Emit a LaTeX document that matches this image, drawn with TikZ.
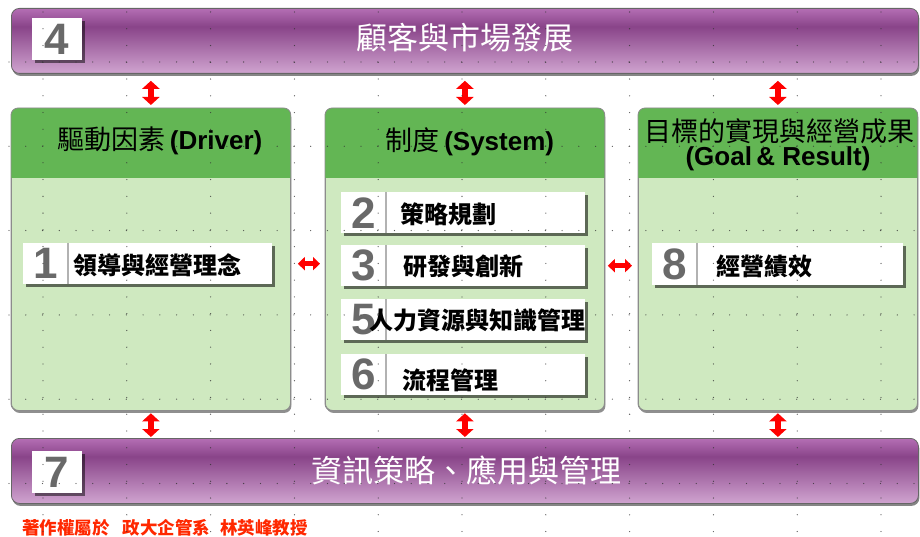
\documentclass[tikz,border=0pt]{standalone}
\usepackage{fontspec}
\setmainfont{Liberation Sans}
\newfontfamily\cjk{Noto Sans CJK TC}
\usetikzlibrary{shadows,arrows.meta,calc}
\definecolor{hgreen}{RGB}{99,182,84}
\definecolor{bgreen}{RGB}{207,233,192}
\definecolor{ptop}{RGB}{180,110,180}
\definecolor{pdark}{RGB}{137,68,137}
\definecolor{pbot}{RGB}{208,164,208}
\definecolor{numgray}{RGB}{105,105,105}
\definecolor{arrred}{RGB}{255,0,0}
\definecolor{copyred}{RGB}{255,40,0}
\pgfdeclareverticalshading{pbar}{100bp}{color(0bp)=(pbot); color(25bp)=(pbot); color(61bp)=(pdark); color(75bp)=(ptop); color(100bp)=(ptop)}
\tikzset{
  barbox/.style={draw=black!60, line width=0.8pt, rounded corners=8pt, shade, shading=pbar,
    anchor=north west, inner sep=0pt, minimum width=907pt, minimum height=65pt,
    drop shadow={shadow xshift=1pt, shadow yshift=-2.5pt, opacity=0.6, fill=black!80}},
  numbox/.style={fill=white, anchor=north west, inner sep=0pt, minimum width=50pt, minimum height=42pt,
    drop shadow={shadow xshift=2.5pt, shadow yshift=-2.5pt, opacity=0.5, fill=black}},
  numtxt/.style={font=\fontsize{44}{44}\selectfont\bfseries, text=numgray, inner sep=0pt},
  bartxt/.style={font=\cjk\fontsize{31}{31}\selectfont, text=white, inner sep=0pt},
  panel/.style={draw=black!45, line width=0.8pt, rounded corners=7pt, fill=bgreen, anchor=north west,
    inner sep=0pt, minimum width=279pt, minimum height=302pt,
    drop shadow={shadow xshift=1pt, shadow yshift=-2.5pt, opacity=0.55, fill=black!80}},
  headtxt/.style={font=\fontsize{26}{28}\selectfont, text=black, inner sep=0pt, align=center},
  itembox/.style={fill=white, anchor=north west, inner sep=0pt, minimum height=41pt,
    drop shadow={shadow xshift=3pt, shadow yshift=-3pt, opacity=0.55, fill=black}},
  itemtxt/.style={font=\cjk\bfseries\fontsize{24}{24}\selectfont, text=black, inner sep=0pt},
  divider/.style={draw=black!30, line width=1.6pt},
  vdbl/.style={draw=arrred, line width=6.5pt, {Triangle[width=17pt,length=8pt]}-{Triangle[width=17pt,length=8pt]}},
  hdbl/.style={draw=arrred, line width=4.5pt, {Triangle[width=13pt,length=7pt]}-{Triangle[width=13pt,length=7pt]}},
  gdot/.style={fill=black!80, opacity=0.8}
}
\begin{document}
\begin{tikzpicture}[x=1pt,y=-1pt]
\useasboundingbox (0,0) rectangle (920,537);
% top and bottom bars
\node[barbox] (top) at (11,8) {};
\node[numbox] (n4) at (32,18) {};
\node[numtxt] (n4t) at (n4.center) {4};
\node[bartxt] (toptxt) at (465,38) {顧客與市場發展};
\node[barbox] (bot) at (11,438) {};
\node[numbox] (n7) at (32,451) {};
\node[numtxt] (n7t) at (n7.center) {7};
\node[bartxt] (bottxt) at (466,470) {資訊策略、應用與管理};
% panels
\foreach \nm/\px in {p1/11,p2/325,p3/638}{
  \node[panel] (\nm) at (\px,108) {};
  \begin{scope}
    \clip[rounded corners=7pt] (\nm.north west) rectangle (\nm.south east);
    \fill[hgreen] (\nm.north west) rectangle (\nm.east |- 0,178);
  \end{scope}
  \draw[draw=black!45, line width=0.8pt, rounded corners=7pt] (\nm.north west) rectangle (\nm.south east);
}
\node[headtxt] (h1) at (160,141) {{\cjk\fontsize{27}{28}\selectfont 驅動因素}\,\textbf{(Driver)}};
\node[headtxt] (h2) at (470,142) {{\cjk\fontsize{27}{28}\selectfont 制度}\,\textbf{(System)}};
\node[headtxt] (h3a) at (779,131) {{\cjk\fontsize{27}{28}\selectfont 目標的實現與經營成果}};
\node[headtxt] (h3b) at (778,159) {\textbf{(Goal\,\& Result)}};
% items
\node[itembox, minimum width=249pt] (i1) at (23,243) {};
\node[itembox, minimum width=244pt] (i2) at (341,192) {};
\node[itembox, minimum width=244pt] (i3) at (341,245) {};
\node[itembox, minimum width=244pt] (i5) at (341,299) {};
\node[itembox, minimum width=244pt] (i6) at (341,354) {};
\node[itembox, minimum width=251pt, minimum height=42pt] (i8) at (652,243) {};
\foreach \it/\n in {i1/1,i2/2,i3/3,i5/5,i6/6,i8/8}{
  \draw[divider] ([xshift=45pt]\it.north west) -- ([xshift=45pt]\it.south west);
  \node[numtxt] at ([xshift=22.5pt]\it.west) {\n};
}
\node[itemtxt] (t1) at (157,265) {領導與經營理念};
\node[itemtxt] (t2) at (448,214) {策略規劃};
\node[itemtxt] (t3) at (463,266) {研發與創新};
\node[itemtxt] (t5) at (477,320) {人力資源與知識管理};
\node[itemtxt] (t6) at (450,380) {流程管理};
\node[itemtxt] (t8) at (764,266) {經營績效};
% arrows
\foreach \p in {p1,p2,p3}{
  \draw[vdbl] ([yshift=-7pt]top.south -| \p.north) -- ([yshift=3pt]\p.north);
  \draw[vdbl] ([yshift=-2.5pt]\p.south) -- ([yshift=1pt]bot.north -| \p.south);
}
\draw[hdbl] ([xshift=7pt]p1.east |- i1) -- ([xshift=-5pt]p2.west |- i1);
\draw[hdbl] ([xshift=3pt]p2.east |- i3) -- ([xshift=-6pt]p3.west |- i3);
% copyright
\node[anchor=west, text=copyred, inner sep=0pt, font=\cjk\bfseries\fontsize{17.5}{18}\selectfont] (cr) at (22,528) {著作權屬於\hspace{13pt}政大企管系\hspace{10pt}林英峰教授};
% grid dots
\foreach \k in {0,...,10}{
  \foreach \j in {0,...,31}{
    \fill[gdot] ({43+83.8*\k},{12+16.76*\j}) circle (0.65pt);
  }
}
\foreach \r in {0,...,5}{
  \foreach \j in {0,...,54}{
    \fill[gdot] ({9+16.76*\j},{62+84.3*\r}) circle (0.65pt);
  }
}
\end{tikzpicture}
\end{document}
